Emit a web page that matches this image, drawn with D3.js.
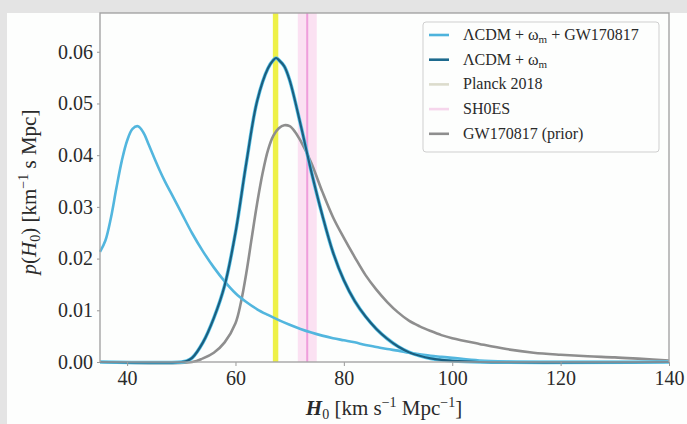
<!DOCTYPE html>
<html>
<head>
<script src="https://d3js.org/d3.v7.min.js"></script>
<style>
  body { margin: 0; background: #e4e4e4; }
  svg { display: block; }
  text { font-family: "Liberation Serif", "DejaVu Serif", serif; fill: #2a2a2a; }
</style>
</head>
<body>
<svg id="viz"></svg>
<script>
// H0 grid + densities
var lcdmGwH = [35,36,37,38,39,40,41,42,43,44,45,46,47,48,50,52,54,56,58,60,62,64,66,68,70,72,74,76,78,80,82,84,86,88,90,92,94,96,98,100,105,110,120,130,140];
var lcdmGwP = [0.0213,0.0235,0.0278,0.0335,0.0388,0.0428,0.0451,0.0456,0.0444,0.042,0.0395,0.0371,0.0349,0.0329,0.0289,0.0249,0.0214,0.0183,0.0156,0.0133,0.0116,0.0102,0.0091,0.0081,0.0072,0.0064,0.0057,0.0051,0.0046,0.0042,0.0038,0.0033,0.0029,0.0025,0.0022,0.0018,0.0015,0.0012,0.001,0.0008,0.0003,0.0001,0,0,0];

var lcdmH = [35,50,51,52,54,56,58,60,62,64,66,67,67.5,68,69,70,72,74,76,78,80,82,84,86,88,90,92,94,96,98,100,105,140];
var lcdmP = [0,0,0.0002,0.0008,0.0038,0.0085,0.0148,0.025,0.0385,0.0505,0.0568,0.0584,0.0588,0.0584,0.0572,0.0545,0.046,0.0368,0.0285,0.0212,0.0158,0.0118,0.0088,0.0064,0.0045,0.003,0.0019,0.0012,0.0007,0.0004,0.0002,0,0];

var priorH = [35,52,54,56,58,60,61,62,63,64,65,66,67,68,69,70,71,72,74,76,78,80,82,84,86,88,90,92,94,96,98,100,105,110,115,120,125,130,135,140];
var priorP = [0,0,0.0007,0.0018,0.0038,0.0075,0.0115,0.0172,0.024,0.0307,0.0365,0.041,0.0438,0.0452,0.0458,0.0456,0.0445,0.0428,0.0385,0.033,0.028,0.024,0.0203,0.0168,0.014,0.0116,0.0096,0.008,0.0069,0.006,0.0052,0.0046,0.0035,0.0025,0.0018,0.0014,0.0011,0.0009,0.0006,0.0003];

var planck = [66.9, 67.9];
var shoes = [71.5, 73.24, 75.0];

var xTicks = [40, 60, 80, 100, 120, 140];
var yTicks = [0, 0.01, 0.02, 0.03, 0.04, 0.05, 0.06];

var legendNames = ["ΛCDM + ω|m| + GW170817", "ΛCDM + ω|m|", "Planck 2018", "SH0ES", "GW170817 (prior)"];
var legendColors = ["#4db3dc", "#1d6a8e", "#dcdccc", "#f6d6ec", "#8e8e8e"];

var W = 687, H = 424;
var svg = d3.select("#viz").attr("width", W).attr("height", H);

// slide background (white figure inside grey frame)
svg.append("rect").attr("x", 7).attr("y", 13).attr("width", W - 7).attr("height", H - 13).attr("fill", "#fdfefd");

var x = d3.scaleLinear().domain([35, 140]).range([100, 669]);
var y = d3.scaleLinear().domain([0, 0.0675]).range([362, 13]);

var plot = svg.append("g");

// bands
plot.append("rect")
  .attr("x", x(shoes[0])).attr("y", y.range()[1])
  .attr("width", x(shoes[2]) - x(shoes[0])).attr("height", y(0) - y.range()[1])
  .attr("fill", "#fbe1f2");
plot.append("line")
  .attr("x1", x(shoes[1])).attr("x2", x(shoes[1]))
  .attr("y1", y.range()[1]).attr("y2", y(0))
  .attr("stroke", "#ef9edb").attr("stroke-width", 2);
plot.append("rect")
  .attr("x", x(planck[0])).attr("y", y.range()[1])
  .attr("width", x(planck[1]) - x(planck[0])).attr("height", y(0) - y.range()[1])
  .attr("fill", "#eef147");

var line = d3.line()
  .x(function(d) { return x(d[0]); })
  .y(function(d) { return y(Math.max(0, d[1])); })
  .curve(d3.curveCatmullRom.alpha(0.5));

function pairs(hs, ps) { return hs.map(function(h, i) { return [h, ps[i]]; }); }

plot.append("path").attr("d", line(pairs(priorH, priorP)))
  .attr("fill", "none").attr("stroke", "#8e8e8e").attr("stroke-width", 2.6);
plot.append("path").attr("d", line(pairs(lcdmGwH, lcdmGwP)))
  .attr("fill", "none").attr("stroke", "#52b6de").attr("stroke-width", 2.6);
// dark curve with cyan edge
plot.append("path").attr("d", line(pairs(lcdmH, lcdmP)))
  .attr("fill", "none").attr("stroke", "#5cc6ea").attr("stroke-width", 3.6);
plot.append("path").attr("d", line(pairs(lcdmH, lcdmP)))
  .attr("fill", "none").attr("stroke", "#1b5f80").attr("stroke-width", 2.2);

// axes
var xAxis = svg.append("g").attr("transform", "translate(0," + y(0) + ")")
  .call(d3.axisBottom(x).tickValues(xTicks).tickSize(4).tickPadding(5).tickFormat(d3.format("d")));
var yAxis = svg.append("g").attr("transform", "translate(" + x(35) + ",0)")
  .call(d3.axisLeft(y).tickValues(yTicks).tickSize(3).tickPadding(4).tickFormat(d3.format(".2f")));
[xAxis, yAxis].forEach(function(a) {
  a.select(".domain").remove();
  a.selectAll(".tick line").attr("stroke", "#999");
  a.selectAll(".tick text").style("font-size", "20px").attr("fill", "#2a2a2a");
});

// spines
svg.append("rect")
  .attr("x", x(35)).attr("y", y.range()[1])
  .attr("width", x(140) - x(35)).attr("height", y(0) - y.range()[1])
  .attr("fill", "none").attr("stroke", "#a4a4a4").attr("stroke-width", 1.4);

// axis labels
var xl = svg.append("text").attr("x", 384).attr("y", 415).attr("text-anchor", "middle").style("font-size", "21px");
xl.append("tspan").attr("font-style", "italic").attr("font-weight", "bold").text("H");
xl.append("tspan").attr("font-size", "14px").attr("dy", 4).text("0");
xl.append("tspan").attr("dy", -4).text(" [km s");
xl.append("tspan").attr("font-size", "14px").attr("dy", -8).text("−1");
xl.append("tspan").attr("dy", 8).text(" Mpc");
xl.append("tspan").attr("font-size", "14px").attr("dy", -8).text("−1");
xl.append("tspan").attr("dy", 8).text("]");

var yl = svg.append("text").attr("transform", "translate(36,192) rotate(-90)").attr("text-anchor", "middle").style("font-size", "21px");
yl.append("tspan").attr("font-style", "italic").text("p");
yl.append("tspan").text("(");
yl.append("tspan").attr("font-style", "italic").text("H");
yl.append("tspan").attr("font-size", "14px").attr("dy", 4).text("0");
yl.append("tspan").attr("dy", -4).text(")  [km");
yl.append("tspan").attr("font-size", "14px").attr("dy", -8).text("−1");
yl.append("tspan").attr("dy", 8).text(" s Mpc]");

// legend
var lg = svg.append("g");
lg.append("rect").attr("x", 423).attr("y", 22).attr("width", 236).attr("height", 130).attr("rx", 3)
  .attr("fill", "#fdfefd").attr("stroke", "#cfcfcf");
legendNames.forEach(function(name, i) {
  var cy = 35 + i * 24.7;
  lg.append("line").attr("x1", 429).attr("x2", 449).attr("y1", cy).attr("y2", cy)
    .attr("stroke", legendColors[i]).attr("stroke-width", 2.6);
  var t = lg.append("text").attr("x", 463).attr("y", cy + 5).style("font-size", "16px");
  var parts = name.split("|");
  t.append("tspan").text(parts[0]);
  if (parts.length > 1) {
    t.append("tspan").attr("font-size", "11px").attr("dy", 3).text(parts[1]);
    t.append("tspan").attr("dy", -3).text(parts[2]);
  }
});
</script>
</body>
</html>
